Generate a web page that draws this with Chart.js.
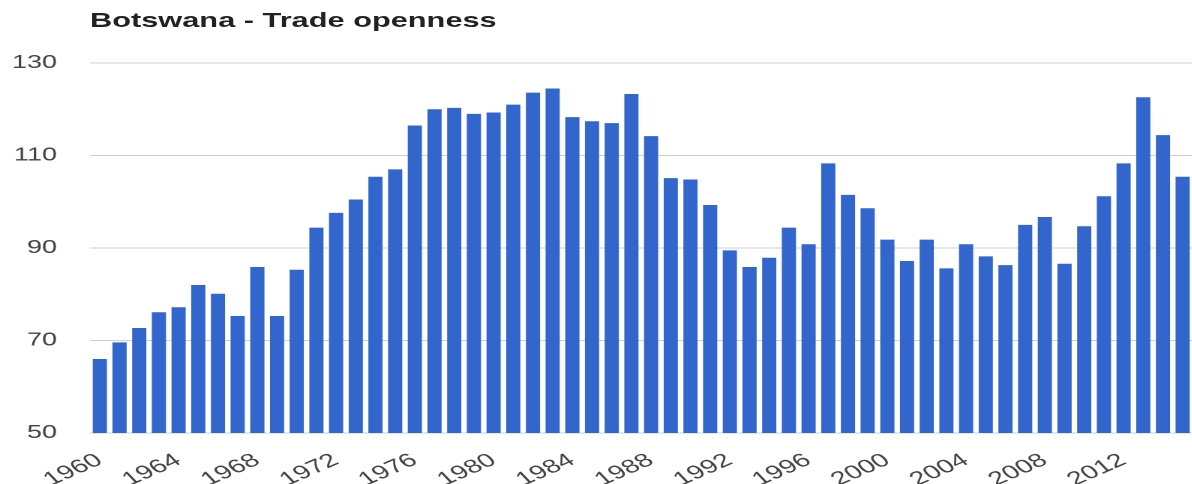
<!DOCTYPE html>
<html lang="en">
<head>
  <meta charset="UTF-8">
  <title>Botswana - Trade openness</title>
  <script src="https://cdn.jsdelivr.net/npm/chart.js"></script>
  <style>
    html, body {
      margin: 0;
      padding: 0;
      background: #fff;
      overflow: hidden;
    }
    /* the reference looks like a screenshot stretched sideways, so draw narrow and widen */
    .stretch {
      position: relative;
      width: 795px;
      height: 484px;
      transform: scaleX(1.5);
      transform-origin: 0 0;
    }
    .chart-title {
      position: absolute;
      left: 60px;
      top: 10px;
      font-family: "Liberation Sans", Arial, sans-serif;
      font-weight: bold;
      font-size: 20.5px;
      line-height: 1;
      color: #222;
      white-space: nowrap;
    }
    .chart-box {
      position: absolute;
      left: 0;
      top: 0;
      width: 795px;
      height: 484px;
    }
  </style>
</head>
<body>
  <div class="stretch">
    <div class="chart-title">Botswana - Trade openness</div>
    <div class="chart-box">
      <canvas id="tradeChart"></canvas>
    </div>
  </div>

  <script>
    const years = [
      '1960', '1961', '1962', '1963', '1964', '1965', '1966', '1967', '1968', '1969',
      '1970', '1971', '1972', '1973', '1974', '1975', '1976', '1977', '1978', '1979',
      '1980', '1981', '1982', '1983', '1984', '1985', '1986', '1987', '1988', '1989',
      '1990', '1991', '1992', '1993', '1994', '1995', '1996', '1997', '1998', '1999',
      '2000', '2001', '2002', '2003', '2004', '2005', '2006', '2007', '2008', '2009',
      '2010', '2011', '2012', '2013', '2014', '2015'
    ];

    // trade openness
    const openness = [
      66.0, 69.6, 72.7, 76.1, 77.2, 82.0, 80.1, 75.3, 85.9, 75.3,
      85.3, 94.4, 97.6, 100.5, 105.4, 107.0, 116.5, 120.0, 120.3, 119.0,
      119.3, 121.0, 123.6, 124.5, 118.3, 117.4, 117.0, 123.3, 114.2, 105.1,
      104.8, 99.3, 89.5, 85.9, 87.9, 94.4, 90.8, 108.3, 101.5, 98.6,
      91.8, 87.2, 91.8, 85.6, 90.8, 88.2, 86.3, 95.0, 96.7, 86.6,
      94.7, 101.2, 108.3, 122.6, 114.4, 105.4
    ];

    const yTicks = [50, 70, 90, 110, 130];

    const fontFamily = '"Liberation Sans", Arial, sans-serif';

    const ctx = document.getElementById('tradeChart').getContext('2d');
    new Chart(ctx, {
      type: 'bar',
      data: {
        labels: years,
        datasets: [{
          label: 'Trade openness',
          data: openness,
          backgroundColor: '#3366cc',
          barPercentage: 0.72,
          categoryPercentage: 1.0
        }]
      },
      options: {
        responsive: true,
        maintainAspectRatio: false,
        animation: false,
        devicePixelRatio: 2,
        layout: {
          padding: { top: 63, right: 0, bottom: 0, left: 0 }
        },
        plugins: {
          legend: { display: false },
          tooltip: { enabled: false }
        },
        scales: {
          x: {
            grid: { display: false },
            border: { display: false },
            ticks: {
              autoSkip: false,
              minRotation: 33,
              maxRotation: 33,
              padding: 8,
              color: '#444',
              font: { family: fontFamily, size: 19 },
              callback: function (value, index) {
                return index % 4 === 0 ? years[index] : '';
              }
            },
            afterFit: function (axis) {
              axis.height = 51;
              // bars run right to the edge in the reference
              axis.paddingLeft = 0;
              axis.paddingRight = 0;
            }
          },
          y: {
            min: yTicks[0],
            max: yTicks[yTicks.length - 1],
            grid: {
              color: '#cfcfcf',
              lineWidth: 1,
              drawTicks: false
            },
            border: { display: false },
            ticks: {
              stepSize: 20,
              padding: 22,
              color: '#444',
              font: { family: fontFamily, size: 18 }
            },
            afterBuildTicks: function (axis) {
              axis.ticks = yTicks.map(v => ({ value: v }));
            },
            afterFit: function (axis) {
              axis.width = 60;
            }
          }
        }
      }
    });
  </script>
</body>
</html>
